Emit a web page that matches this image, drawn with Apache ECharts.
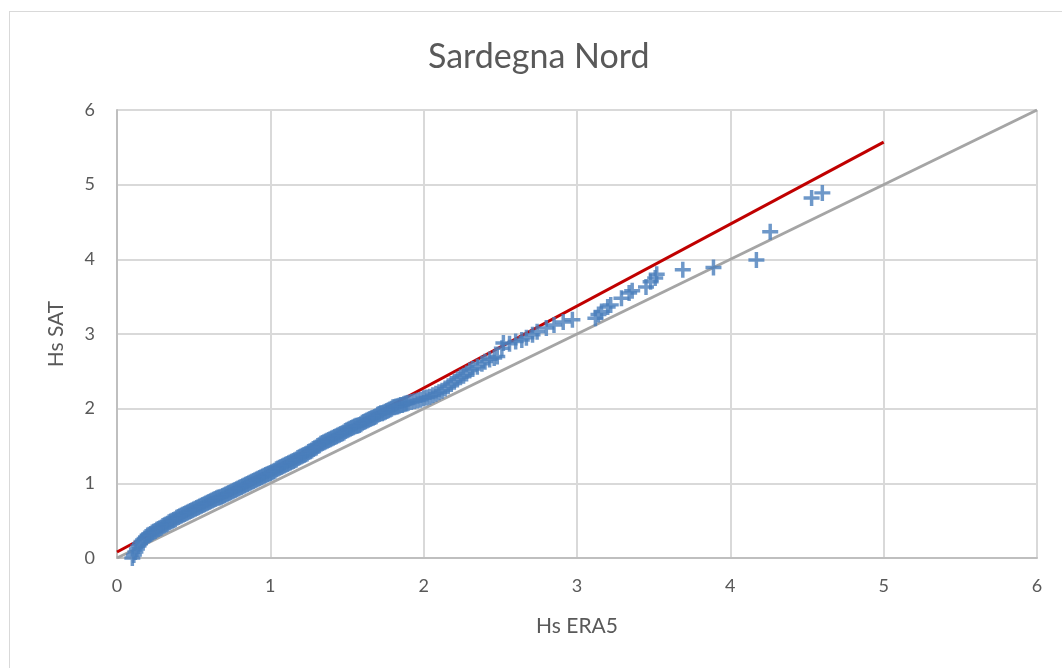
<!DOCTYPE html>
<html>
<head>
<meta charset="utf-8">
<title>Sardegna Nord</title>
<script src="https://cdn.jsdelivr.net/npm/echarts@6/dist/echarts.min.js"></script>
<style>
  html, body { margin: 0; padding: 0; background: #fff; }
  .frame {
    position: absolute;
    left: 9px;
    top: 11px;
    width: 1100px;
    height: 700px;
    border: 1px solid #d9d9d9;
    box-sizing: border-box;
  }
  #chart { position: absolute; left: 0; top: 0; width: 1062px; height: 668px; }
</style>
</head>
<body>
<div class="frame"></div>
<div id="chart"></div>
<script>
// quantili Hs ERA5 (x) e Hs SAT (y)
var era5 = [
  0.10, 0.11, 0.12, 0.13, 0.14, 0.15, 0.16, 0.17, 0.18, 0.19, 0.20,
  0.21, 0.22, 0.23, 0.24, 0.25, 0.26, 0.27, 0.28, 0.29, 0.30,
  0.31, 0.32, 0.33, 0.34, 0.35, 0.36, 0.37, 0.38, 0.39, 0.40,
  0.41, 0.42, 0.43, 0.44, 0.45, 0.46, 0.47, 0.48, 0.49, 0.50,
  0.51, 0.52, 0.53, 0.54, 0.55, 0.56, 0.57, 0.58, 0.59, 0.60,
  0.61, 0.62, 0.63, 0.64, 0.65, 0.66, 0.67, 0.68, 0.69, 0.70,
  0.71, 0.72, 0.73, 0.74, 0.75, 0.76, 0.77, 0.78, 0.79, 0.80,
  0.81, 0.82, 0.83, 0.84, 0.85, 0.86, 0.87, 0.88, 0.89, 0.90,
  0.91, 0.92, 0.93, 0.94, 0.95, 0.96, 0.97, 0.98, 0.99, 1.00,
  1.01, 1.02, 1.03, 1.04, 1.05, 1.06, 1.07, 1.08, 1.09, 1.10,
  1.11, 1.12, 1.13, 1.14, 1.15, 1.16, 1.17, 1.18, 1.19, 1.20,
  1.21, 1.22, 1.23, 1.24, 1.25, 1.26, 1.27, 1.28, 1.29, 1.30,
  1.31, 1.32, 1.33, 1.34, 1.35, 1.36, 1.37, 1.38, 1.39, 1.40,
  1.41, 1.42, 1.43, 1.44, 1.45, 1.46, 1.47, 1.48, 1.49, 1.50,
  1.51, 1.52, 1.53, 1.54, 1.55, 1.56, 1.57, 1.58, 1.59, 1.60,
  1.61, 1.62, 1.63, 1.64, 1.65, 1.66, 1.67, 1.68, 1.69, 1.70,
  1.71, 1.72, 1.73, 1.74, 1.75, 1.76, 1.77, 1.78, 1.79, 1.80,
  1.81, 1.82, 1.83, 1.84, 1.85, 1.86, 1.87, 1.88, 1.89, 1.90,
  1.92, 1.94, 1.96, 1.98, 2.00, 2.02, 2.04, 2.06, 2.08, 2.10,
  2.12, 2.14, 2.16, 2.18, 2.20, 2.22, 2.24, 2.26, 2.28, 2.30,
  2.32, 2.35, 2.38, 2.40, 2.43, 2.46, 2.48, 2.51, 2.52,
  2.56, 2.60, 2.64, 2.67, 2.71, 2.74, 2.80, 2.85, 2.91, 2.97,
  3.12, 3.14, 3.16, 3.20, 3.22, 3.29, 3.34, 3.36, 3.45, 3.48,
  3.51, 3.52, 3.69, 3.89, 4.17, 4.26, 4.53, 4.60
];
var sat = [
  0.00, 0.04, 0.08, 0.12, 0.16, 0.19, 0.22, 0.24, 0.26, 0.28, 0.30,
  0.31, 0.32, 0.34, 0.35, 0.36, 0.38, 0.39, 0.40, 0.41, 0.43,
  0.44, 0.45, 0.46, 0.48, 0.49, 0.50, 0.51, 0.52, 0.54, 0.55,
  0.56, 0.57, 0.58, 0.59, 0.60, 0.61, 0.62, 0.63, 0.64, 0.65,
  0.66, 0.67, 0.68, 0.69, 0.70, 0.71, 0.72, 0.73, 0.74, 0.75,
  0.76, 0.77, 0.78, 0.79, 0.80, 0.81, 0.81, 0.82, 0.83, 0.84,
  0.85, 0.86, 0.87, 0.88, 0.89, 0.90, 0.91, 0.92, 0.93, 0.94,
  0.95, 0.96, 0.97, 0.98, 0.99, 1.00, 1.01, 1.02, 1.03, 1.04,
  1.05, 1.06, 1.07, 1.08, 1.09, 1.10, 1.11, 1.12, 1.13, 1.14,
  1.15, 1.16, 1.17, 1.19, 1.20, 1.21, 1.22, 1.23, 1.24, 1.25,
  1.26, 1.27, 1.28, 1.29, 1.30, 1.31, 1.32, 1.34, 1.35, 1.36,
  1.37, 1.38, 1.39, 1.40, 1.42, 1.43, 1.44, 1.46, 1.47, 1.48,
  1.50, 1.51, 1.53, 1.54, 1.55, 1.56, 1.57, 1.58, 1.59, 1.60,
  1.61, 1.62, 1.63, 1.64, 1.65, 1.66, 1.67, 1.68, 1.70, 1.71,
  1.72, 1.73, 1.74, 1.75, 1.76, 1.77, 1.77, 1.78, 1.79, 1.81,
  1.82, 1.83, 1.84, 1.85, 1.86, 1.87, 1.88, 1.89, 1.90, 1.92,
  1.93, 1.94, 1.94, 1.95, 1.96, 1.97, 1.98, 1.99, 2.00, 2.02,
  2.02, 2.03, 2.03, 2.04, 2.05, 2.05, 2.06, 2.07, 2.07, 2.08,
  2.09, 2.10, 2.11, 2.12, 2.14, 2.15, 2.16, 2.18, 2.20, 2.22,
  2.24, 2.27, 2.30, 2.33, 2.36, 2.39, 2.42, 2.44, 2.47, 2.51,
  2.53, 2.56, 2.60, 2.63, 2.66, 2.68, 2.70, 2.81, 2.88,
  2.87, 2.90, 2.92, 2.95, 2.99, 3.03, 3.08, 3.12, 3.16, 3.19,
  3.21, 3.26, 3.30, 3.36, 3.39, 3.48, 3.55, 3.58, 3.63, 3.70,
  3.75, 3.80, 3.86, 3.89, 3.99, 4.37, 4.82, 4.89
];
// retta di regressione (rossa) e bisettrice (grigia)
var fitLine = [[0, 0.08], [5, 5.57]];
var bisector = [[0, 0], [6, 6]];
var ticks = [0, 1, 2, 3, 4, 5, 6];

var points = era5.map(function (x, i) { return [x, sat[i]]; });
var font = 'Lato, "Open Sans", sans-serif';

var chart = echarts.init(document.getElementById('chart'));
var option = {
  animation: false,
  title: {
    text: 'Sardegna Nord',
    left: 423,
    top: 35,
    textStyle: { color: '#595959', fontSize: 34, fontWeight: 'normal', fontFamily: font }
  },
  grid: { left: 117, right: 25, top: 110, bottom: 110, containLabel: false },
  xAxis: {
    type: 'value',
    min: ticks[0],
    max: ticks[ticks.length - 1],
    interval: 1,
    name: 'Hs ERA5',
    nameLocation: 'middle',
    nameGap: 58,
    nameTextStyle: { color: '#595959', fontSize: 21, fontFamily: font },
    axisLine: { show: true, lineStyle: { color: '#bfbfbf', width: 2 } },
    axisTick: { show: false },
    axisLabel: { color: '#595959', fontSize: 18, margin: 19, fontFamily: font },
    splitLine: { show: true, lineStyle: { color: '#d9d9d9', width: 2 } }
  },
  yAxis: {
    type: 'value',
    min: ticks[0],
    max: ticks[ticks.length - 1],
    interval: 1,
    name: 'Hs SAT',
    nameLocation: 'middle',
    nameGap: 50,
    nameTextStyle: { color: '#595959', fontSize: 21, fontFamily: font },
    axisLine: { show: true, lineStyle: { color: '#bfbfbf', width: 2 } },
    axisTick: { show: false },
    axisLabel: { color: '#595959', fontSize: 18, margin: 22, fontFamily: font },
    splitLine: { show: true, lineStyle: { color: '#d9d9d9', width: 2 } }
  },
  series: [
    {
      type: 'line',
      data: bisector,
      showSymbol: false,
      lineStyle: { color: '#a5a5a5', width: 3 },
      z: 2
    },
    {
      type: 'line',
      data: fitLine,
      showSymbol: false,
      lineStyle: { color: '#c00000', width: 3 },
      z: 3
    },
    {
      type: 'scatter',
      data: points,
      symbol: 'path://M4.7,0H7.3V4.7H12V7.3H7.3V12H4.7V7.3H0V4.7H4.7Z',
      symbolSize: 16,
      itemStyle: { color: '#4a7ebb' },
      z: 4
    }
  ]
};
chart.setOption(option);
</script>
</body>
</html>
